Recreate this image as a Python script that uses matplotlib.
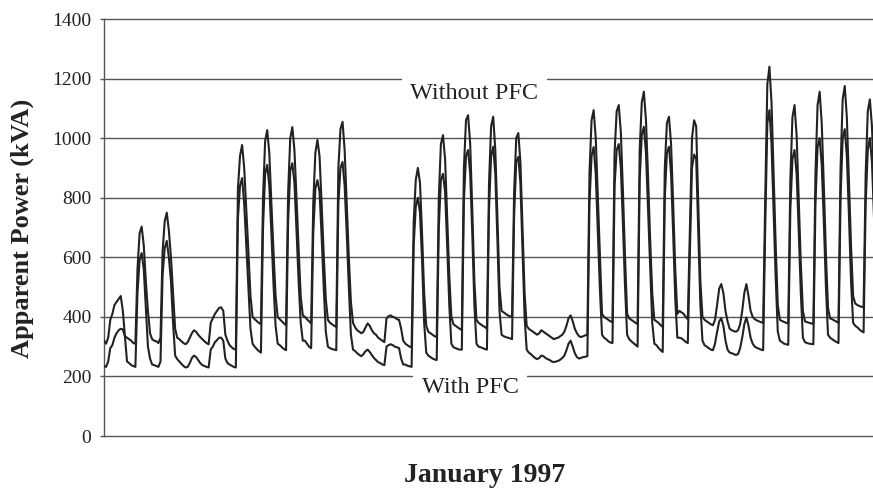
import matplotlib
matplotlib.use("Agg")
import matplotlib.pyplot as plt
import numpy as np

# Apparent power, January 1997, one value every 2 hours (00, 02, ... 22h), one row per day
without_pfc = [
    320, 310, 330, 390, 410, 440, 450, 460, 470, 420, 335, 330,          # 1 Wed (holiday)
    325, 320, 312, 310, 560, 680, 703, 640, 520, 420, 345, 325,          # 2 Thu
    320, 318, 312, 330, 620, 720, 750, 690, 600, 480, 360, 330,          # 3 Fri
    325, 318, 312, 308, 315, 330, 345, 355, 350, 340, 332, 325,          # 4 Sat
    318, 312, 308, 380, 395, 410, 420, 430, 432, 420, 340, 320,          # 5 Sun
    305, 298, 292, 290, 830, 940, 977, 900, 760, 620, 470, 400,          # 6
    392, 386, 380, 375, 800, 990, 1027, 950, 780, 620, 470, 400,         # 7
    392, 385, 378, 372, 820, 1000, 1037, 960, 800, 630, 470, 405,        # 8
    400, 392, 385, 378, 780, 950, 994, 940, 780, 610, 460, 390,          # 9
    380, 375, 370, 366, 900, 1030, 1055, 960, 780, 600, 450, 380,        # 10
    365, 355, 350, 345, 350, 365, 378, 370, 355, 345, 340, 330,          # 11 Sat
    325, 320, 315, 395, 402, 405, 400, 398, 392, 390, 360, 320,          # 12 Sun
    310, 305, 300, 298, 720, 860, 900, 850, 680, 480, 370, 350,          # 13
    345, 340, 335, 332, 800, 980, 1010, 930, 740, 540, 400, 375,         # 14
    370, 365, 360, 356, 900, 1060, 1077, 980, 760, 520, 390, 380,        # 15
    375, 370, 366, 360, 850, 1040, 1072, 960, 740, 500, 420, 415,        # 16
    410, 405, 402, 400, 820, 1000, 1017, 920, 700, 480, 370, 360,        # 17
    355, 350, 345, 340, 345, 355, 350, 345, 340, 335, 330, 325,          # 18 Sat
    328, 330, 335, 340, 350, 370, 395, 405, 385, 360, 345, 335,          # 19 Sun
    332, 335, 338, 340, 880, 1060, 1094, 1000, 800, 600, 410, 400,       # 20
    395, 390, 385, 382, 950, 1090, 1111, 1020, 820, 600, 410, 395,       # 21
    390, 385, 380, 376, 960, 1120, 1156, 1060, 870, 660, 480, 390,       # 22
    385, 380, 372, 366, 900, 1050, 1072, 980, 780, 560, 410, 420,        # 23
    415, 410, 400, 392, 700, 1000, 1060, 1040, 780, 520, 400, 390,       # 24
    385, 380, 375, 372, 390, 440, 495, 510, 480, 420, 385, 360,          # 25 Sat
    355, 352, 350, 355, 375, 420, 480, 510, 470, 420, 400, 392,          # 26 Sun
    388, 385, 382, 380, 800, 1180, 1240, 1120, 880, 640, 440, 390,       # 27
    386, 383, 380, 378, 860, 1070, 1111, 1010, 800, 580, 420, 385,       # 28
    382, 380, 378, 376, 880, 1110, 1156, 1050, 840, 610, 430, 395,       # 29
    392, 388, 384, 380, 900, 1130, 1175, 1070, 860, 640, 470, 445,       # 30
    440, 436, 434, 432, 880, 1090, 1130, 1040, 840, 620, 450, 420,       # 31
]

with_pfc = [
    235, 232, 250, 295, 305, 330, 345, 355, 360, 358, 335, 250,
    245, 238, 235, 232, 480, 590, 614, 560, 430, 300, 260, 240,
    238, 235, 232, 250, 540, 630, 655, 600, 520, 380, 270, 258,
    250, 242, 235, 230, 232, 245, 262, 270, 265, 255, 245, 238,
    235, 232, 230, 290, 300, 315, 322, 330, 330, 320, 260, 245,
    240, 236, 232, 230, 730, 840, 866, 780, 640, 500, 360, 310,
    300, 292, 285, 280, 700, 880, 910, 840, 680, 510, 370, 310,
    305, 298, 292, 288, 720, 890, 916, 850, 690, 520, 380, 320,
    320, 310, 300, 295, 680, 830, 859, 820, 670, 500, 350, 300,
    295, 292, 290, 288, 780, 900, 920, 840, 680, 500, 340, 290,
    285, 278, 272, 268, 275, 285, 290, 282, 272, 262, 255, 248,
    245, 240, 238, 300, 305, 308, 305, 300, 298, 295, 260, 240,
    240, 236, 234, 232, 640, 770, 800, 750, 590, 380, 280, 270,
    265, 260, 257, 255, 700, 860, 880, 820, 640, 440, 310, 298,
    295, 292, 290, 290, 790, 940, 960, 880, 680, 440, 310, 300,
    298, 295, 292, 290, 760, 940, 971, 880, 660, 420, 340, 335,
    332, 330, 328, 325, 740, 920, 937, 850, 630, 400, 290, 280,
    275, 268, 262, 258, 262, 270, 268, 262, 258, 255, 250, 248,
    250, 252, 256, 262, 270, 288, 310, 320, 300, 278, 265, 260,
    262, 265, 266, 268, 780, 940, 970, 880, 690, 490, 340, 330,
    325, 318, 314, 312, 840, 960, 980, 900, 710, 500, 340, 325,
    318, 312, 306, 300, 860, 1010, 1038, 950, 760, 560, 380, 310,
    305, 296, 288, 282, 800, 950, 971, 880, 680, 460, 330, 330,
    328, 322, 316, 312, 620, 900, 945, 930, 690, 440, 320, 305,
    300, 295, 290, 288, 310, 350, 385, 395, 370, 320, 290, 280,
    278, 275, 272, 275, 295, 330, 375, 398, 370, 330, 310, 300,
    296, 293, 290, 288, 700, 1050, 1094, 980, 760, 530, 350, 320,
    315, 310, 308, 306, 760, 930, 960, 880, 690, 480, 330, 315,
    312, 310, 309, 308, 780, 970, 1000, 910, 720, 500, 340, 330,
    325, 320, 316, 312, 800, 1000, 1030, 940, 740, 520, 380, 370,
    365, 358, 352, 348, 780, 960, 1000, 920, 730, 520, 380, 350,
]

hours = np.arange(len(without_pfc)) * 2
y_ticks = [0, 200, 400, 600, 800, 1000, 1200, 1400]

serif = ["Liberation Serif", "DejaVu Serif"]
plt.rcParams["font.family"] = serif

fig = plt.figure(figsize=(8.73, 4.9), dpi=100)
ax = fig.add_axes([104 / 873, 1 - 436 / 490, 1 - 104 / 873, (436 - 19) / 490])

ax.plot(hours, without_pfc, color="#222222", lw=1.5, zorder=3)
ax.plot(hours, with_pfc, color="#222222", lw=1.5, zorder=3)

ax.set_xlim(0, 735)
ax.set_ylim(0, 1400)
ax.set_yticks(y_ticks)
ax.set_xticks([])
ax.grid(axis="y", color="#555555", lw=1.0, zorder=1)
for gl in ax.get_ygridlines():
    gl.set_clip_on(False)
ax.set_axisbelow(True)
for s in ["top", "right", "bottom"]:
    ax.spines[s].set_visible(False)
ax.spines["left"].set_color("#555555")
ax.spines["left"].set_linewidth(1.0)
ax.tick_params(axis="y", length=3, width=1.0, color="#555555", pad=6,
               labelsize=14, labelcolor="#222222")

# labels on the curves, white boxes cut the grid lines
ax.text(354, 1150, "Without PFC", fontsize=17.5, ha="center", va="center", color="#222222",
        zorder=5, bbox=dict(boxstyle="square,pad=0.35", fc="white", ec="none"))
ax.text(350, 162, "With PFC", fontsize=17.5, ha="center", va="center", color="#222222",
        zorder=5, bbox=dict(boxstyle="square,pad=0.35", fc="white", ec="none"))

fig.text(22 / 873, 1 - 228 / 490, "Apparent Power (kVA)", rotation=90, fontsize=19,
         fontweight="bold", ha="center", va="center", color="#222222")
fig.text(485 / 873, 1 - 475 / 490, "January 1997", fontsize=20, fontweight="bold",
         ha="center", va="center", color="#222222")

fig.savefig("out.png", dpi=100)
